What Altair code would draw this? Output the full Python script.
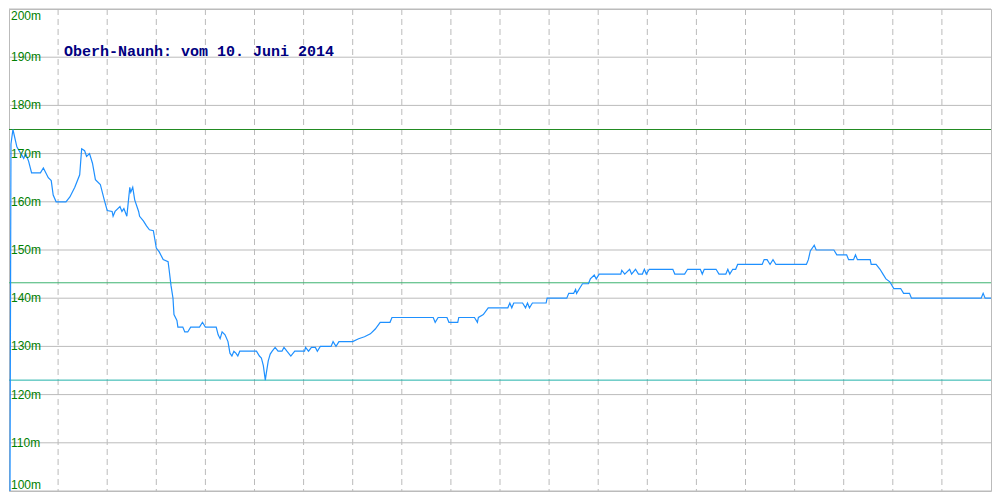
import altair as alt
import pandas as pd

# Profile: horizontal position (0..1000) and elevation in metres
dist = [1, 2, 4, 8, 12, 15, 17, 20, 23, 32, 35, 40, 43, 45, 48, 58, 62, 67, 72, 74,
        77, 79, 82, 85, 88, 93, 97, 100, 105, 106, 108, 113, 115, 117, 120, 123, 124, 126, 128, 132,
        133, 137, 140, 143, 147, 150, 153, 157, 162, 163, 165, 167, 168, 171, 172, 177, 179, 182, 185, 194,
        197, 200, 211, 213, 215, 217, 220, 223, 225, 227, 229, 231, 233, 235, 252, 255, 257, 259, 261, 262,
        264, 266, 268, 271, 274, 278, 280, 283, 287, 291, 301, 302, 305, 308, 312, 314, 317, 328, 330, 333,
        336, 350, 356, 362, 368, 373, 378, 388, 390, 432, 434, 437, 446, 448, 457, 458, 474, 477, 478, 483,
        488, 508, 510, 512, 514, 523, 526, 528, 530, 533, 547, 548, 568, 570, 575, 577, 578, 581, 584, 590,
        592, 596, 598, 601, 623, 624, 627, 632, 634, 638, 641, 645, 647, 649, 652, 676, 678, 688, 691, 704,
        706, 708, 720, 723, 730, 732, 734, 737, 740, 742, 767, 769, 772, 775, 778, 781, 812, 814, 816, 820,
        822, 840, 843, 853, 855, 860, 862, 864, 877, 878, 883, 887, 890, 893, 897, 901, 908, 911, 917, 919,
        990, 992, 994, 1000]
elev = [100, 172, 175, 171.4, 170, 169, 170, 168.4, 166, 166, 167, 165, 164.4, 161.4, 160, 160, 161, 163, 165.6, 171,
        170.6, 169.4, 170, 168, 164.6, 163.6, 160.4, 158.2, 158, 157, 158, 159, 158, 158.6, 157, 163, 162, 163, 160.4, 158,
        157, 156, 155, 154.2, 154, 150.4, 149.6, 148, 147.6, 146, 142.6, 140, 136.6, 135.4, 134, 134, 133, 133, 134, 134,
        135, 134, 134, 132.4, 131.6, 133, 132.4, 131, 128.6, 128, 129, 128.6, 128, 129, 129, 128, 127.6, 126, 123, 124.4,
        127, 128.4, 129, 129.8, 129, 129, 129.8, 129, 128, 129, 129, 129.8, 129, 129.8, 129.8, 129, 130, 130, 131, 130,
        131, 131, 131.6, 132, 132.6, 133.6, 135, 135, 136, 136, 135, 136, 136, 135, 135, 136, 136, 135, 136, 136.6,
        138, 138, 139, 138, 139, 139, 138, 139, 138, 139, 139, 140, 140, 141, 141, 141.8, 141, 142, 143, 143,
        144, 144.8, 144, 145, 145, 145.8, 145, 146, 145, 146, 145, 145, 146, 145, 146, 146, 145, 145, 146, 146,
        145, 146, 146, 145, 145, 146, 145, 146, 146, 147, 147, 148, 148, 147, 148, 147, 147, 148, 149.8, 151,
        150, 150, 149, 149, 148, 148, 149, 148, 148, 147, 147, 146, 145, 144, 143.4, 142, 142, 141, 141, 140,
        140, 141, 140, 140]

y_ticks = [100, 110, 120, 130, 140, 150, 160, 170, 180, 190, 200]
y_labels = ["100m", "110m", "120m", "130m", "140m", "150m", "160m", "170m", "180m", "190m", "200m"]
x_grid = [50, 100, 150, 200, 250, 300, 350, 400, 450, 500, 550, 600, 650, 700, 750, 800, 850, 900, 950]
ref_values = [175, 143.2, 123]
ref_colors = ["#228b22", "#3cb371", "#20b2aa"]
title_text = "Oberh-Naunh: vom 10. Juni 2014"

prof = pd.DataFrame({"d": dist, "h": elev})
ticks = pd.DataFrame({"v": y_ticks, "lab": y_labels})
vg = pd.DataFrame({"x": x_grid})
refs = pd.DataFrame({"v": ref_values, "c": ref_colors})

xs = alt.Scale(domain=[0, 1000], nice=False, zero=False)
ys = alt.Scale(domain=[100, 200], nice=False, zero=False)

hgrid = alt.Chart(ticks).mark_rule(color="#bbbbbb", strokeWidth=1).encode(
    y=alt.Y("v:Q", scale=ys, axis=None))
vgrid = alt.Chart(vg).mark_rule(color="#bbbbbb", strokeWidth=1, strokeDash=[6, 4]).encode(
    x=alt.X("x:Q", scale=xs, axis=None))
reflines = alt.Chart(refs).mark_rule(strokeWidth=1).encode(
    y=alt.Y("v:Q", scale=ys, axis=None),
    color=alt.Color("c:N", scale=None, legend=None))
line = alt.Chart(prof).mark_line(color="#1e90ff", strokeWidth=1.2, clip=True).encode(
    x=alt.X("d:Q", scale=xs, axis=None),
    y=alt.Y("h:Q", scale=ys, axis=None))

lab_style = dict(font="Liberation Sans", fontSize=12, color="#008000", align="left")
lab_mid = alt.Chart(ticks).transform_filter(
    (alt.datum.v > 100) & (alt.datum.v < 200)).mark_text(baseline="middle", **lab_style).encode(
    x=alt.value(2), y=alt.Y("v:Q", scale=ys, axis=None), text="lab:N")
lab_top = alt.Chart(ticks).transform_filter(alt.datum.v == 200).mark_text(
    baseline="top", dy=2, **lab_style).encode(
    x=alt.value(2), y=alt.Y("v:Q", scale=ys, axis=None), text="lab:N")
lab_bot = alt.Chart(ticks).transform_filter(alt.datum.v == 100).mark_text(
    baseline="bottom", dy=1, **lab_style).encode(
    x=alt.value(2), y=alt.Y("v:Q", scale=ys, axis=None), text="lab:N")

title = alt.Chart(pd.DataFrame({"t": [title_text]})).mark_text(
    font="Liberation Mono", fontSize=15, color="#000080", align="left", baseline="middle",
    fontWeight="bold").encode(
    x=alt.value(55), y=alt.value(42), text="t:N")

chart = alt.layer(hgrid, vgrid, reflines, line, lab_mid, lab_top, lab_bot, title).properties(
    width=984, height=484, padding=0,
    autosize=alt.AutoSizeParams(type="fit", contains="padding"),
    background="white"
).configure_view(stroke="#bbbbbb", strokeWidth=1)

chart.save("out.html", embed_options={"renderer": "svg", "actions": False})
